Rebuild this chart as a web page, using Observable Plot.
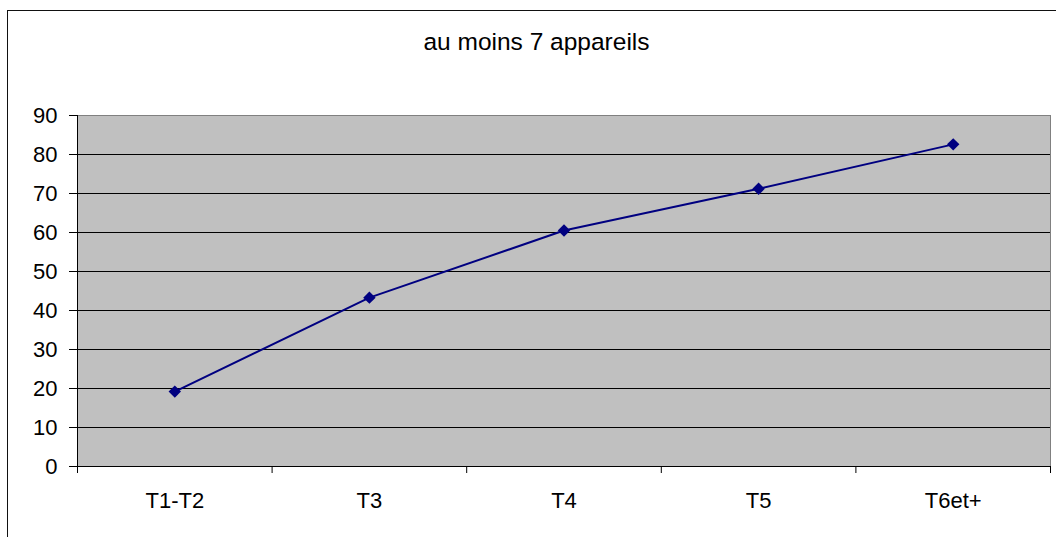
<!DOCTYPE html>
<html>
<head>
<meta charset="utf-8">
<script src="https://cdn.jsdelivr.net/npm/d3@7"></script>
<script src="https://cdn.jsdelivr.net/npm/@observablehq/plot@0.6"></script>
<style>
  html, body { margin: 0; padding: 0; background: #fff; }
  #wrap { position: relative; width: 1056px; height: 537px; overflow: hidden; font-family: "Liberation Sans", Arial, sans-serif; }
  #outer { position: absolute; left: 7px; top: 10px; width: 1200px; height: 700px; border-left: 1px solid #111; border-top: 1px solid #111; pointer-events: none; }
  #title { height: 100px; box-sizing: border-box; padding-top: 30px; padding-left: 17px; text-align: center; font-size: 24.5px; line-height: 24px; color: #000; }
  #chart svg { display: block; }
</style>
</head>
<body>
<div id="wrap">
  <div id="outer"></div>
  <div id="title"></div>
  <div id="chart"></div>
</div>
<script>
const titleText = "au moins 7 appareils";
const categories = ["T1-T2", "T3", "T4", "T5", "T6et+"];
const values = [19.2, 43.3, 60.5, 71.2, 82.6];
const yTicks = [0, 10, 20, 30, 40, 50, 60, 70, 80, 90];

document.getElementById("title").textContent = titleText;

const data = categories.map((c, i) => ({cat: c, pos: i + 0.5, value: values[i]}));
const boundaries = d3.range(categories.length + 1);

const chart = Plot.plot({
  width: 1056,
  height: 437,
  marginLeft: 77,
  marginRight: 6,
  marginTop: 15,
  marginBottom: 71,
  style: {fontFamily: "'Liberation Sans', Arial, sans-serif", fontSize: "22px", background: "transparent", color: "#000"},
  x: {domain: [0, categories.length], axis: null, label: null},
  y: {domain: [0, 90], axis: null, label: null},
  marks: [
    Plot.frame({fill: "#C0C0C0", stroke: "none"}),
    Plot.gridY(yTicks.filter(v => v > 0 && v < 90), {stroke: "#000", strokeOpacity: 1, strokeWidth: 1}),
    Plot.frame({stroke: "#808080", strokeWidth: 1}),
    Plot.axisY({ticks: yTicks, tickSize: 8, tickPadding: 12, fontSize: 22, stroke: "#000", label: null}),
    Plot.axisX({ticks: boundaries, tickSize: 7, tickFormat: () => "", stroke: "#000", label: null}),
    Plot.ruleX([0], {stroke: "#000"}),
    Plot.ruleY([0], {stroke: "#000"}),
    Plot.text(data, {x: "pos", frameAnchor: "bottom", dy: 34, text: "cat", fontSize: 22, lineAnchor: "middle", fill: "#000"}),
    Plot.line(data, {x: "pos", y: "value", stroke: "#000080", strokeWidth: 2}),
    Plot.dot(data, {x: "pos", y: "value", symbol: "diamond2", r: 5.6, fill: "#000080", stroke: "none"})
  ]
});
document.getElementById("chart").appendChild(chart);
</script>
</body>
</html>
